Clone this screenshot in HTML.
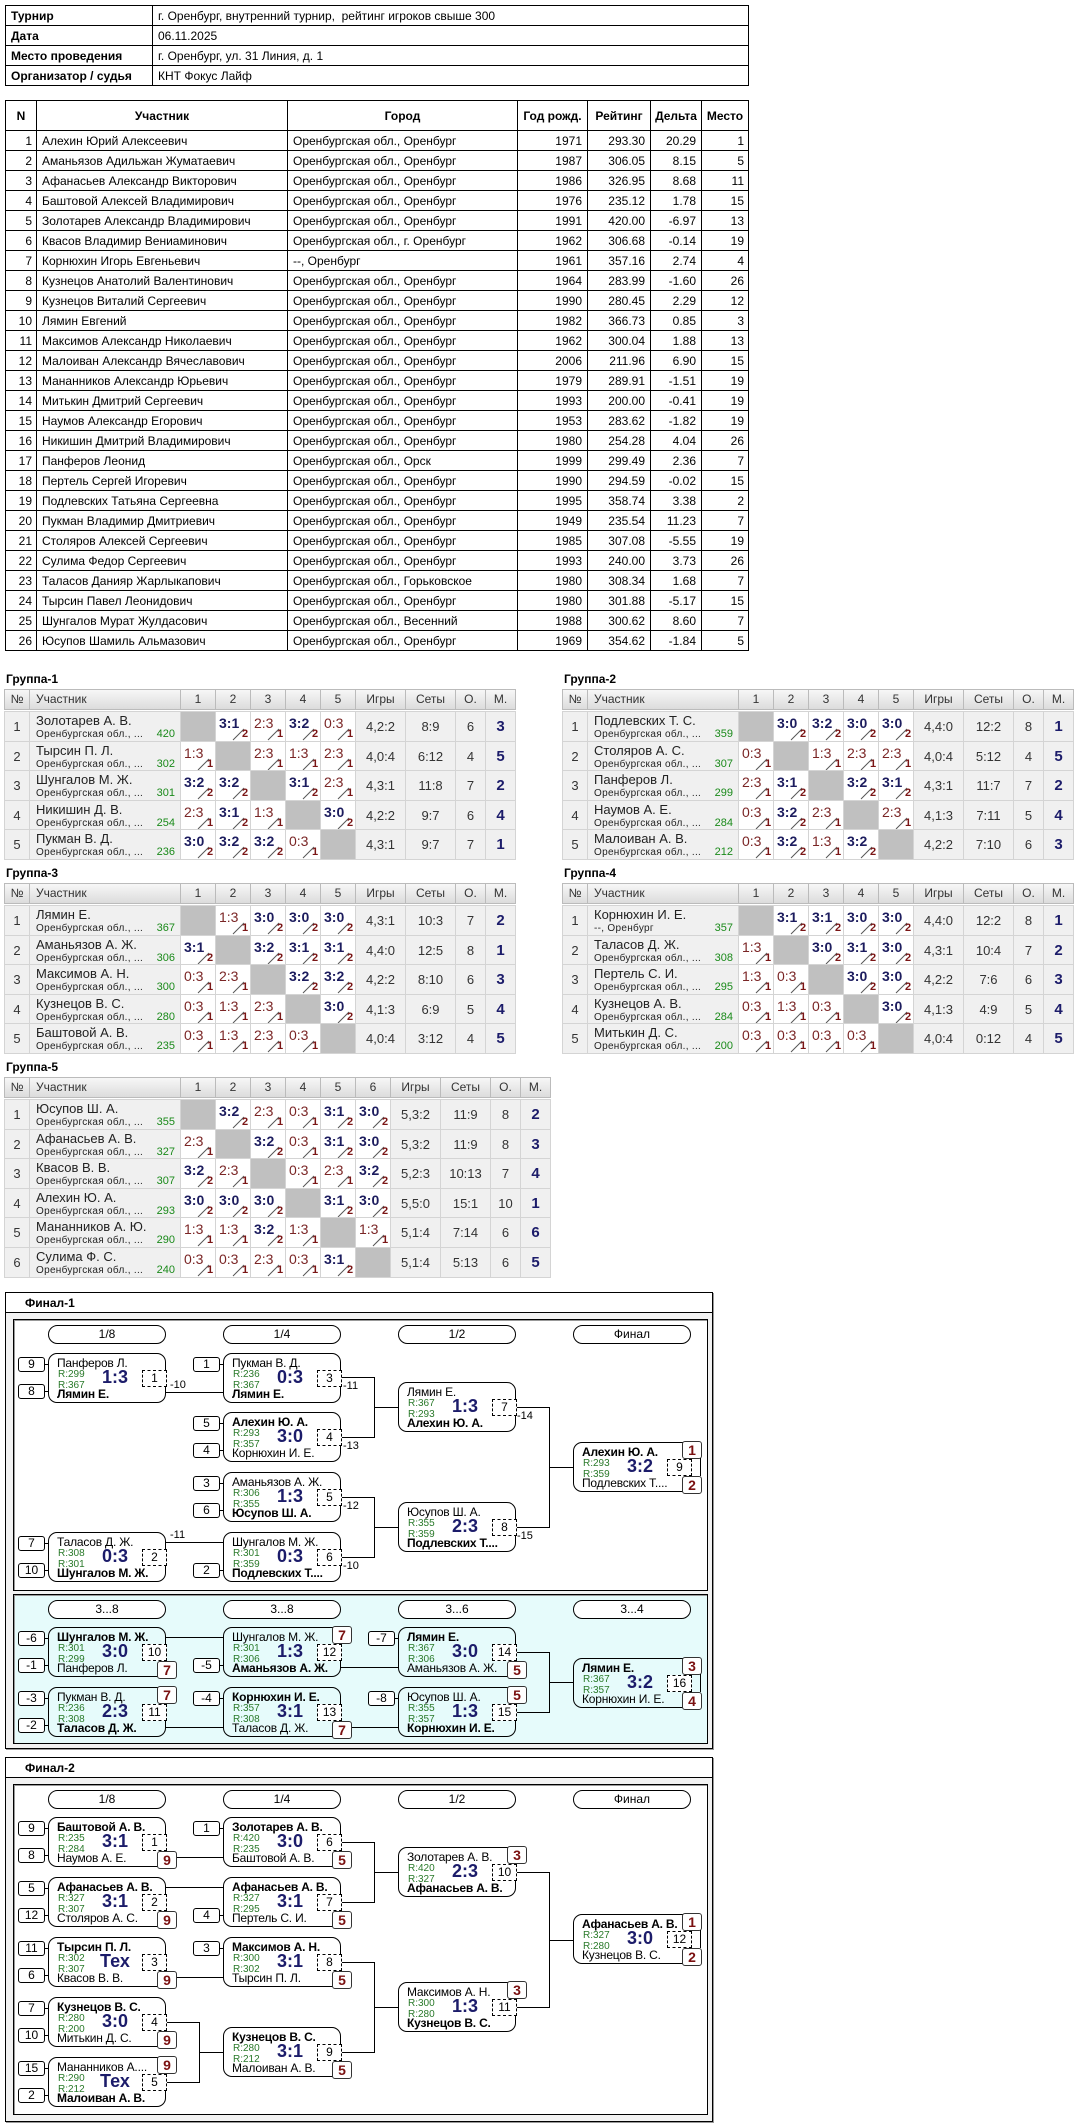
<!DOCTYPE html>
<html><head><meta charset="utf-8">
<style>
*{box-sizing:border-box;margin:0;padding:0}
body{width:1081px;height:2127px;background:#fff;position:relative;font-family:"Liberation Sans",Arial,sans-serif;color:#000;overflow:hidden}
.a{position:absolute}
table.t{position:absolute;border-collapse:collapse;font-size:12px;table-layout:fixed}
table.t td{border:1px solid #000;height:20px;padding:0 5px;white-space:nowrap;overflow:hidden}
table.t th{border:1px solid #000;height:30px;font-weight:bold;text-align:center}
.r{text-align:right}
.gl{position:absolute;font-size:12px;font-weight:bold}
.hd{position:absolute;background:linear-gradient(#f7f7f7,#dcdcdc);border:1px solid #bbb;font-size:12px;color:#333;text-align:center;line-height:19px}
.c{position:absolute;border:1px solid #d4d4d4;overflow:hidden}
.mb{position:absolute;width:118px;height:50px;border:1px solid #000;border-radius:9px}
.nm{position:absolute;left:8px;font-size:12px;white-space:nowrap;letter-spacing:-0.2px}
.rt{position:absolute;left:9px;font-size:10px;color:#2a7a2a}
.sc{position:absolute;left:36px;width:60px;top:13px;text-align:center;font-size:18px;font-weight:bold;color:#1c1c6a}
.db{position:absolute;left:93px;top:16px;width:25px;height:17px;border:1px dashed #000;font-size:12px;text-align:center;line-height:15px;background:#fff}
.sd{position:absolute;width:27px;height:15px;border:1px solid #000;border-radius:3px;font-size:12px;text-align:center;line-height:13px;background:#fff}
.pl{position:absolute;width:20px;height:18px;border:1px solid #333;border-radius:3px;font-size:14px;font-weight:bold;color:#7a1010;text-align:center;line-height:16px;background:#fff}
.pill{position:absolute;width:118px;height:19px;border:1px solid #000;border-radius:10px;font-size:12px;text-align:center;line-height:17px;background:#fff}
.ln{position:absolute;background:#000}
.lb{position:absolute;font-size:11px}
</style></head><body>
<table class="t" style="left:5px;top:5px;width:743px">
<colgroup><col style="width:147px"><col style="width:596px"></colgroup>
<tr><td style="height:20px"><b>Турнир</b></td><td>г. Оренбург, внутренний турнир,&nbsp; рейтинг игроков свыше 300</td></tr>
<tr><td style="height:20px"><b>Дата</b></td><td>06.11.2025</td></tr>
<tr><td style="height:20px"><b>Место проведения</b></td><td>г. Оренбург, ул. 31 Линия, д. 1</td></tr>
<tr><td style="height:20px"><b>Организатор / судья</b></td><td>КНТ Фокус Лайф</td></tr>
</table>
<div id="root"></div>
<script>
var H='';
var M=[
["Алехин Юрий Алексеевич","Оренбургская обл., Оренбург",1971,"293.30","20.29",1],
["Аманьязов Адильжан Жуматаевич","Оренбургская обл., Оренбург",1987,"306.05","8.15",5],
["Афанасьев Александр Викторович","Оренбургская обл., Оренбург",1986,"326.95","8.68",11],
["Баштовой Алексей Владимирович","Оренбургская обл., Оренбург",1976,"235.12","1.78",15],
["Золотарев Александр Владимирович","Оренбургская обл., Оренбург",1991,"420.00","-6.97",13],
["Квасов Владимир Вениаминович","Оренбургская обл., г. Оренбург",1962,"306.68","-0.14",19],
["Корнюхин Игорь Евгеньевич","--, Оренбург",1961,"357.16","2.74",4],
["Кузнецов Анатолий Валентинович","Оренбургская обл., Оренбург",1964,"283.99","-1.60",26],
["Кузнецов Виталий Сергеевич","Оренбургская обл., Оренбург",1990,"280.45","2.29",12],
["Лямин Евгений","Оренбургская обл., Оренбург",1982,"366.73","0.85",3],
["Максимов Александр Николаевич","Оренбургская обл., Оренбург",1962,"300.04","1.88",13],
["Малоиван Александр Вячеславович","Оренбургская обл., Оренбург",2006,"211.96","6.90",15],
["Мананников Александр Юрьевич","Оренбургская обл., Оренбург",1979,"289.91","-1.51",19],
["Митькин Дмитрий Сергеевич","Оренбургская обл., Оренбург",1993,"200.00","-0.41",19],
["Наумов Александр Егорович","Оренбургская обл., Оренбург",1953,"283.62","-1.82",19],
["Никишин Дмитрий Владимирович","Оренбургская обл., Оренбург",1980,"254.28","4.04",26],
["Панферов Леонид","Оренбургская обл., Орск",1999,"299.49","2.36",7],
["Пертель Сергей Игоревич","Оренбургская обл., Оренбург",1990,"294.59","-0.02",15],
["Подлевских Татьяна Сергеевна","Оренбургская обл., Оренбург",1995,"358.74","3.38",2],
["Пукман Владимир Дмитриевич","Оренбургская обл., Оренбург",1949,"235.54","11.23",7],
["Столяров Алексей Сергеевич","Оренбургская обл., Оренбург",1985,"307.08","-5.55",19],
["Сулима Федор Сергеевич","Оренбургская обл., Оренбург",1993,"240.00","3.73",26],
["Таласов Данияр Жарлыкапович","Оренбургская обл., Горьковское",1980,"308.34","1.68",7],
["Тырсин Павел Леонидович","Оренбургская обл., Оренбург",1980,"301.88","-5.17",15],
["Шунгалов Мурат Жулдасович","Оренбургская обл., Весенний",1988,"300.62","8.60",7],
["Юсупов Шамиль Альмазович","Оренбургская обл., Оренбург",1969,"354.62","-1.84",5]];
H+='<table class="t" style="left:5px;top:100px;width:743px"><colgroup><col style="width:31px"><col style="width:251px"><col style="width:230px"><col style="width:70px"><col style="width:63px"><col style="width:51px"><col style="width:47px"></colgroup>';
H+='<tr><th>N</th><th>Участник</th><th>Город</th><th>Год рожд.</th><th>Рейтинг</th><th>Дельта</th><th>Место</th></tr>';
M.forEach(function(r,i){H+='<tr><td class="r" style="padding:0 4px">'+(i+1)+'</td><td>'+r[0]+'</td><td>'+r[1]+'</td><td class="r">'+r[2]+'</td><td class="r">'+r[3]+'</td><td class="r">'+r[4]+'</td><td class="r" style="padding:0 4px">'+r[5]+'</td></tr>';});
H+='</table>';

function group(x0,y0,label,P){
 var n=P.length;
 H+='<div class="gl" style="left:'+(x0+2)+'px;top:'+(y0-17)+'px">'+label+'</div>';
 var cols=[25,151];for(var k=0;k<n;k++)cols.push(35);cols.push(50,50,30,30);
 var hd=['№','Участник'];for(k=1;k<=n;k++)hd.push(k);hd.push('Игры','Сеты','О.','М.');
 var x=x0;
 cols.forEach(function(w,j){H+='<div class="hd" style="left:'+x+'px;top:'+y0+'px;width:'+(w+1)+'px;height:21px;'+(j==1?'text-align:left;padding-left:6px':'')+'">'+hd[j]+'</div>';x+=w;});
 var rh=29.6;
 P.forEach(function(p,i){
  var y=y0+22+i*rh;x=x0;
  cols.forEach(function(w,j){
   var st='left:'+x+'px;top:'+y+'px;width:'+(w+1)+'px;height:'+(rh+1)+'px;';
   var inner='',bg='#f0f0f0';
   if(j==0){inner='<div class="a" style="width:100%;top:7px;text-align:center;font-size:13px;color:#333">'+(i+1)+'</div>';}
   else if(j==1){inner='<div class="a" style="left:6px;top:1px;font-size:13px;color:#222;white-space:nowrap">'+p[0]+'</div><div class="a" style="left:6px;top:17px;font-size:10px;color:#222;letter-spacing:0.3px;white-space:nowrap">'+p[1]+'</div><div class="a" style="right:5px;top:16px;font-size:11px;color:#1a8a1a">'+p[2]+'</div>';}
   else if(j<2+n){var s=p[3][j-2];
    if(s==null){bg='#c0c0c0';}
    else{bg='#fff';var ab=s.split(':'),win=+ab[0]>+ab[1];
     inner='<div class="a" style="left:3px;top:3px;font-size:14px;'+(win?'font-weight:bold;color:#1c1c5e':'color:#7a2525')+'">'+s+'</div><svg class="a" style="left:0;top:0" width="35" height="30"><line x1="17" y1="28" x2="28" y2="17" stroke="#555" stroke-width="1"/></svg><div class="a" style="left:26px;top:16px;font-size:11px;font-weight:bold;color:#7a1515">'+(win?2:1)+'</div>';}
   }
   else{var v=p[4+j-2-n];
    inner='<div class="a" style="width:100%;top:'+(j==cols.length-1?6:7)+'px;text-align:center;'+(j==cols.length-1?'font-size:15px;font-weight:bold;color:#1c1c6a':'font-size:13px;color:#333')+'">'+v+'</div>';}
   H+='<div class="c" style="'+st+'background:'+bg+'">'+inner+'</div>';
   x+=w;});
 });
}
var OB="Оренбургская обл., ...";
group(4,689,"Группа-1",[
["Золотарев А. В.",OB,420,[null,"3:1","2:3","3:2","0:3"],"4,2:2","8:9",6,3],
["Тырсин П. Л.",OB,302,["1:3",null,"2:3","1:3","2:3"],"4,0:4","6:12",4,5],
["Шунгалов М. Ж.",OB,301,["3:2","3:2",null,"3:1","2:3"],"4,3:1","11:8",7,2],
["Никишин Д. В.",OB,254,["2:3","3:1","1:3",null,"3:0"],"4,2:2","9:7",6,4],
["Пукман В. Д.",OB,236,["3:0","3:2","3:2","0:3",null],"4,3:1","9:7",7,1]]);
group(562,689,"Группа-2",[
["Подлевских Т. С.",OB,359,[null,"3:0","3:2","3:0","3:0"],"4,4:0","12:2",8,1],
["Столяров А. С.",OB,307,["0:3",null,"1:3","2:3","2:3"],"4,0:4","5:12",4,5],
["Панферов Л.",OB,299,["2:3","3:1",null,"3:2","3:1"],"4,3:1","11:7",7,2],
["Наумов А. Е.",OB,284,["0:3","3:2","2:3",null,"2:3"],"4,1:3","7:11",5,4],
["Малоиван А. В.",OB,212,["0:3","3:2","1:3","3:2",null],"4,2:2","7:10",6,3]]);
group(4,883,"Группа-3",[
["Лямин Е.",OB,367,[null,"1:3","3:0","3:0","3:0"],"4,3:1","10:3",7,2],
["Аманьязов А. Ж.",OB,306,["3:1",null,"3:2","3:1","3:1"],"4,4:0","12:5",8,1],
["Максимов А. Н.",OB,300,["0:3","2:3",null,"3:2","3:2"],"4,2:2","8:10",6,3],
["Кузнецов В. С.",OB,280,["0:3","1:3","2:3",null,"3:0"],"4,1:3","6:9",5,4],
["Баштовой А. В.",OB,235,["0:3","1:3","2:3","0:3",null],"4,0:4","3:12",4,5]]);
group(562,883,"Группа-4",[
["Корнюхин И. Е.","--, Оренбург",357,[null,"3:1","3:1","3:0","3:0"],"4,4:0","12:2",8,1],
["Таласов Д. Ж.",OB,308,["1:3",null,"3:0","3:1","3:0"],"4,3:1","10:4",7,2],
["Пертель С. И.",OB,295,["1:3","0:3",null,"3:0","3:0"],"4,2:2","7:6",6,3],
["Кузнецов А. В.",OB,284,["0:3","1:3","0:3",null,"3:0"],"4,1:3","4:9",5,4],
["Митькин Д. С.",OB,200,["0:3","0:3","0:3","0:3",null],"4,0:4","0:12",4,5]]);
group(4,1077,"Группа-5",[
["Юсупов Ш. А.",OB,355,[null,"3:2","2:3","0:3","3:1","3:0"],"5,3:2","11:9",8,2],
["Афанасьев А. В.",OB,327,["2:3",null,"3:2","0:3","3:1","3:0"],"5,3:2","11:9",8,3],
["Квасов В. В.",OB,307,["3:2","2:3",null,"0:3","2:3","3:2"],"5,2:3","10:13",7,4],
["Алехин Ю. А.",OB,293,["3:0","3:0","3:0",null,"3:1","3:0"],"5,5:0","15:1",10,1],
["Мананников А. Ю.",OB,290,["1:3","1:3","3:2","1:3",null,"1:3"],"5,1:4","7:14",6,6],
["Сулима Ф. С.",OB,240,["0:3","0:3","2:3","0:3","3:1",null],"5,1:4","5:13",6,5]]);

function L(x,y,w,h){H+='<div class="ln" style="left:'+x+'px;top:'+y+'px;width:'+w+'px;height:'+h+'px"></div>';}
function lb(x,y,t){H+='<div class="lb" style="left:'+x+'px;top:'+y+'px">'+t+'</div>';}
function mt(x,y,t,r1,b,r2,s,n,w,o){
 o=o||{};
 H+='<div class="mb" style="left:'+x+'px;top:'+y+'px;background:'+(o.bg||'#fff')+'">'+
 '<div class="nm" style="top:2px;'+(w=='t'?'font-weight:bold':'')+'">'+t+'</div>'+
 '<div class="rt" style="top:15px">R:'+r1+'</div><div class="rt" style="top:26px">R:'+r2+'</div>'+
 '<div class="sc">'+s+'</div><div class="db">'+n+'</div>'+
 '<div class="nm" style="top:33px;'+(w=='b'?'font-weight:bold':'')+'">'+b+'</div></div>';
 if(o.s1!=null){H+='<div class="sd" style="left:'+(x-30)+'px;top:'+(y+4)+'px">'+o.s1+'</div>';L(x-3,y+11,3,1);}
 if(o.s2!=null){H+='<div class="sd" style="left:'+(x-30)+'px;top:'+(y+31)+'px">'+o.s2+'</div>';L(x-3,y+38,3,1);}
 if(o.pb!=null)H+='<div class="pl" style="left:'+(x+109)+'px;top:'+(y+34)+'px">'+o.pb+'</div>';
 if(o.pt!=null)H+='<div class="pl" style="left:'+(x+109)+'px;top:'+(y-1)+'px">'+o.pt+'</div>';
}
function pills(y,a){[48,223,398,573].forEach(function(x,i){H+='<div class="pill" style="left:'+x+'px;top:'+y+'px">'+a[i]+'</div>';});}
function br(x1,ya,yb,x2){L(x1,ya,x2-x1-24,1);L(x1,yb,x2-x1-24,1);L(x2-24,ya,1,yb-ya+1);L(x2-24,(ya+yb)/2,24,1);}
function frame(y1,y2,title){
 H+='<div class="a" style="left:5px;top:'+y1+'px;width:708px;height:'+(y2-y1)+'px;border:1px solid #000;background:#f2f2f2;box-shadow:1px 1px 0 #999"></div>';
 H+='<div class="a" style="left:5px;top:'+y1+'px;width:708px;height:21px;border:1px solid #000;background:#fff"></div>';
 H+='<div class="gl" style="left:25px;top:'+(y1+4)+'px;font-size:12px">'+title+'</div>';
}
frame(1292,1749,"Финал-1");
H+='<div class="a" style="left:13px;top:1319px;width:695px;height:272px;border:1px solid #000;background:#fff;box-shadow:inset 1px 1px 0 #999"></div>';
H+='<div class="a" style="left:13px;top:1594px;width:695px;height:150px;border:1px solid #000;background:#e6fbfb;box-shadow:inset 1px 1px 0 #999"></div>';
pills(1325,["1/8","1/4","1/2","Финал"]);
L(166,1392,57,1);lb(170,1379,"-10");
L(166,1542,57,1);lb(170,1529,"-11");
br(341,1377,1437,398);lb(343,1380,"-11");lb(343,1440,"-13");
br(341,1497,1557,398);lb(343,1500,"-12");lb(343,1560,"-10");
br(515,1407,1527,573);lb(517,1410,"-14");lb(517,1530,"-15");
mt(48,1353,"Панферов Л.",299,"Лямин Е.",367,"1:3",1,'b',{s1:9,s2:8});
mt(48,1532,"Таласов Д. Ж.",308,"Шунгалов М. Ж.",301,"0:3",2,'b',{s1:7,s2:10});
mt(223,1353,"Пукман В. Д.",236,"Лямин Е.",367,"0:3",3,'b',{s1:1});
mt(223,1412,"Алехин Ю. А.",293,"Корнюхин И. Е.",357,"3:0",4,'t',{s1:5,s2:4});
mt(223,1472,"Аманьязов А. Ж.",306,"Юсупов Ш. А.",355,"1:3",5,'b',{s1:3,s2:6});
mt(223,1532,"Шунгалов М. Ж.",301,"Подлевских Т....",359,"0:3",6,'b',{s2:2});
mt(398,1382,"Лямин Е.",367,"Алехин Ю. А.",293,"1:3",7,'b');
mt(398,1502,"Юсупов Ш. А.",355,"Подлевских Т....",359,"2:3",8,'b');
mt(573,1442,"Алехин Ю. А.",293,"Подлевских Т....",359,"3:2",9,'t');
H+='<div class="pl" style="left:682px;top:1441px">1</div><div class="pl" style="left:682px;top:1476px">2</div>';L(700,1458,1,18);
pills(1600,["3...8","3...8","3...6","3...4"]);
L(166,1637,57,1);L(166,1727,57,1);L(341,1667,57,1);L(341,1727,57,1);
br(515,1652,1712,573);
mt(48,1627,"Шунгалов М. Ж.",301,"Панферов Л.",299,"3:0",10,'t',{s1:-6,s2:-1,pb:7,bg:'transparent'});
mt(48,1687,"Пукман В. Д.",236,"Таласов Д. Ж.",308,"2:3",11,'b',{s1:-3,s2:-2,pt:7,bg:'transparent'});
mt(223,1627,"Шунгалов М. Ж.",301,"Аманьязов А. Ж.",306,"1:3",12,'b',{s2:-5,pt:7,bg:'transparent'});
mt(223,1687,"Корнюхин И. Е.",357,"Таласов Д. Ж.",308,"3:1",13,'t',{s1:-4,pb:7,bg:'transparent'});
mt(398,1627,"Лямин Е.",367,"Аманьязов А. Ж.",306,"3:0",14,'t',{s1:-7,pb:5,bg:'transparent'});
mt(398,1687,"Юсупов Ш. А.",355,"Корнюхин И. Е.",357,"1:3",15,'b',{s1:-8,pt:5,bg:'transparent'});
mt(573,1658,"Лямин Е.",367,"Корнюхин И. Е.",357,"3:2",16,'t',{bg:'transparent'});
H+='<div class="pl" style="left:682px;top:1657px">3</div><div class="pl" style="left:682px;top:1692px">4</div>';L(700,1674,1,18);
frame(1757,2122,"Финал-2");
H+='<div class="a" style="left:13px;top:1784px;width:695px;height:331px;border:1px solid #000;background:#fff;box-shadow:inset 1px 1px 0 #999"></div>';
pills(1790,["1/8","1/4","1/2","Финал"]);
L(166,1857,57,1);L(166,1887,57,1);L(166,1977,57,1);
L(166,2022,33,1);L(166,2082,33,1);L(199,2022,1,61);L(199,2052,24,1);
br(341,1842,1902,398);br(341,1962,2052,398);br(515,1872,2007,573);
mt(48,1817,"Баштовой А. В.",235,"Наумов А. Е.",284,"3:1",1,'t',{s1:9,s2:8,pb:9});
mt(48,1877,"Афанасьев А. В.",327,"Столяров А. С.",307,"3:1",2,'t',{s1:5,s2:12,pb:9});
mt(48,1937,"Тырсин П. Л.",302,"Квасов В. В.",307,"Тех",3,'t',{s1:11,s2:6,pb:9});
mt(48,1997,"Кузнецов В. С.",280,"Митькин Д. С.",200,"3:0",4,'t',{s1:7,s2:10,pb:9});
mt(48,2057,"Мананников А....",290,"Малоиван А. В.",212,"Тех",5,'b',{s1:15,s2:2,pt:9});
mt(223,1817,"Золотарев А. В.",420,"Баштовой А. В.",235,"3:0",6,'t',{s1:1,pb:5});
mt(223,1877,"Афанасьев А. В.",327,"Пертель С. И.",295,"3:1",7,'t',{s2:4,pb:5});
mt(223,1937,"Максимов А. Н.",300,"Тырсин П. Л.",302,"3:1",8,'t',{s1:3,pb:5});
mt(223,2027,"Кузнецов В. С.",280,"Малоиван А. В.",212,"3:1",9,'t',{pb:5});
mt(398,1847,"Золотарев А. В.",420,"Афанасьев А. В.",327,"2:3",10,'b',{pt:3});
mt(398,1982,"Максимов А. Н.",300,"Кузнецов В. С.",280,"1:3",11,'b',{pt:3});
mt(573,1914,"Афанасьев А. В.",327,"Кузнецов В. С.",280,"3:0",12,'t');
H+='<div class="pl" style="left:682px;top:1913px">1</div><div class="pl" style="left:682px;top:1948px">2</div>';L(700,1930,1,18);
document.getElementById('root').innerHTML=H;
</script>
</body></html>
